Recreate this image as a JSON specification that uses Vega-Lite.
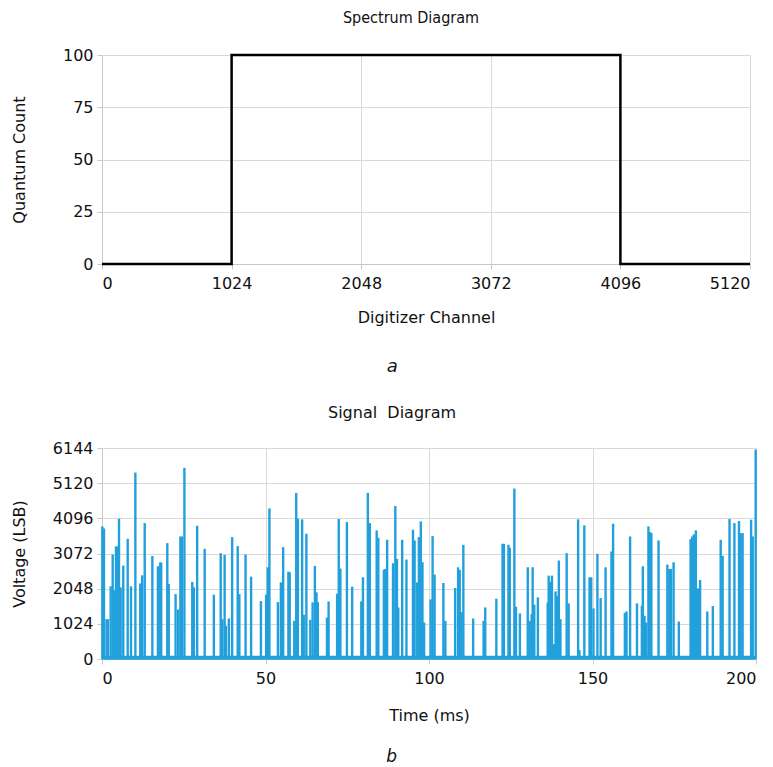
{
  "$schema": "https://vega.github.io/schema/vega-lite/v6.json",
  "padding": {"left": 11, "top": 10, "right": 2, "bottom": 0},
  "background": "white",
  "config": {
    "font": "DejaVu Sans",
    "view": {"stroke": null},
    "axis": {
      "labelFont": "DejaVu Sans", "labelFontSize": 16, "labelColor": "#111",
      "titleFont": "DejaVu Sans", "titleFontSize": 16, "titleFontWeight": "normal", "titleColor": "#111",
      "gridColor": "#d9d9d9", "gridWidth": 1, "domainColor": "#c8c8c8", "tickColor": "#c8c8c8",
      "tickSize": 5, "labelPadding": 4, "labelOverlap": false, "format": "d"
    },
    "axisX": {"labelPadding": 6},
    "title": {"font": "DejaVu Sans", "fontWeight": "normal", "color": "#111"}
  },
  "datasets": {
    "spectrum": [
      {"channel": 0, "count": 0},
      {"channel": 1024, "count": 100},
      {"channel": 4096, "count": 0},
      {"channel": 5120, "count": 0}
    ],
    "baseline": [
      {"t0": 0, "t1": 200, "v": 40}
    ],
    "signal": [
      {"t": 0.1, "v": 3861}, {"t": 0.6, "v": 3800}, {"t": 1.4, "v": 1160}, {"t": 1.8, "v": 1160},
      {"t": 2.65, "v": 2116}, {"t": 3.27, "v": 3042}, {"t": 3.6, "v": 2000}, {"t": 4.28, "v": 3276},
      {"t": 4.6, "v": 3276}, {"t": 5.2, "v": 4085}, {"t": 5.7, "v": 2086}, {"t": 6.5, "v": 2720},
      {"t": 7.86, "v": 3500}, {"t": 8.87, "v": 2116}, {"t": 10.2, "v": 5430}, {"t": 11.7, "v": 2200},
      {"t": 12.3, "v": 2437}, {"t": 13.06, "v": 3958}, {"t": 15.4, "v": 3000}, {"t": 17.1, "v": 2700},
      {"t": 17.8, "v": 2808}, {"t": 18.1, "v": 2808}, {"t": 19.97, "v": 3373}, {"t": 20.4, "v": 2184},
      {"t": 22.5, "v": 1890}, {"t": 23.3, "v": 1443}, {"t": 23.97, "v": 3568}, {"t": 24.4, "v": 3568},
      {"t": 25.2, "v": 5567}, {"t": 27.6, "v": 2242}, {"t": 28.1, "v": 2086}, {"t": 29.1, "v": 3880},
      {"t": 31.4, "v": 3208}, {"t": 34.2, "v": 1872}, {"t": 36.3, "v": 3081}, {"t": 36.8, "v": 1160},
      {"t": 37.5, "v": 3032}, {"t": 37.9, "v": 965}, {"t": 38.8, "v": 1180}, {"t": 39.8, "v": 3549},
      {"t": 41.5, "v": 3286}, {"t": 42.0, "v": 1891}, {"t": 43.9, "v": 3042}, {"t": 45.6, "v": 2398},
      {"t": 48.6, "v": 1687}, {"t": 50.2, "v": 1872}, {"t": 50.7, "v": 2671}, {"t": 51.2, "v": 4387},
      {"t": 53.8, "v": 1657}, {"t": 54.7, "v": 2232}, {"t": 55.4, "v": 3256}, {"t": 57.0, "v": 2545},
      {"t": 57.4, "v": 2525}, {"t": 58.8, "v": 1111}, {"t": 59.4, "v": 4836}, {"t": 59.9, "v": 4085},
      {"t": 61.2, "v": 4066}, {"t": 61.7, "v": 1287}, {"t": 62.5, "v": 3647}, {"t": 63.7, "v": 1141},
      {"t": 64.4, "v": 1648}, {"t": 65.1, "v": 2711}, {"t": 65.6, "v": 1940}, {"t": 66.0, "v": 1657},
      {"t": 68.8, "v": 1209}, {"t": 69.3, "v": 1677}, {"t": 71.9, "v": 1901}, {"t": 72.4, "v": 4076},
      {"t": 72.9, "v": 2632}, {"t": 74.9, "v": 3988}, {"t": 76.5, "v": 2106}, {"t": 79.3, "v": 1677},
      {"t": 79.8, "v": 2379}, {"t": 81.3, "v": 4836}, {"t": 81.9, "v": 3958}, {"t": 84.0, "v": 3744},
      {"t": 84.5, "v": 3530}, {"t": 86.2, "v": 2594}, {"t": 86.5, "v": 2623}, {"t": 87.2, "v": 3471},
      {"t": 89.0, "v": 2789}, {"t": 89.7, "v": 4456}, {"t": 90.2, "v": 2915}, {"t": 90.6, "v": 1502},
      {"t": 91.8, "v": 3471}, {"t": 93.1, "v": 2896}, {"t": 95.1, "v": 3764}, {"t": 95.6, "v": 3452},
      {"t": 96.4, "v": 2232}, {"t": 96.9, "v": 3549}, {"t": 97.5, "v": 4007}, {"t": 98.0, "v": 2818},
      {"t": 98.5, "v": 1063}, {"t": 100.5, "v": 1735}, {"t": 101.1, "v": 3578}, {"t": 101.7, "v": 2457},
      {"t": 104.4, "v": 2213}, {"t": 105.0, "v": 1111}, {"t": 108.0, "v": 2067}, {"t": 108.9, "v": 2671},
      {"t": 109.4, "v": 2594}, {"t": 109.9, "v": 1365}, {"t": 110.5, "v": 3325}, {"t": 113.5, "v": 1180},
      {"t": 116.7, "v": 1111}, {"t": 117.2, "v": 1502}, {"t": 120.6, "v": 1755}, {"t": 122.5, "v": 3354},
      {"t": 122.9, "v": 3354}, {"t": 124.3, "v": 3325}, {"t": 124.7, "v": 3237}, {"t": 126.1, "v": 4963},
      {"t": 126.6, "v": 1521}, {"t": 127.8, "v": 1326}, {"t": 130.2, "v": 2671}, {"t": 130.8, "v": 1111},
      {"t": 131.4, "v": 1307}, {"t": 131.7, "v": 2671}, {"t": 132.2, "v": 1580}, {"t": 133.3, "v": 1794},
      {"t": 136.3, "v": 1648}, {"t": 136.6, "v": 2428}, {"t": 137.1, "v": 2252}, {"t": 137.6, "v": 2428},
      {"t": 138.2, "v": 430}, {"t": 138.7, "v": 1969}, {"t": 139.2, "v": 1843}, {"t": 139.7, "v": 2867},
      {"t": 140.2, "v": 1160}, {"t": 142.1, "v": 3081}, {"t": 142.7, "v": 1619}, {"t": 145.6, "v": 4066},
      {"t": 146.0, "v": 260}, {"t": 147.5, "v": 3890}, {"t": 149.1, "v": 2379}, {"t": 149.6, "v": 2379},
      {"t": 150.3, "v": 1472}, {"t": 151.5, "v": 3062}, {"t": 152.5, "v": 1775}, {"t": 154.0, "v": 2671},
      {"t": 155.8, "v": 3130}, {"t": 156.3, "v": 3939}, {"t": 159.9, "v": 1346}, {"t": 160.4, "v": 1385},
      {"t": 161.5, "v": 3568}, {"t": 163.6, "v": 1619}, {"t": 165.1, "v": 1550}, {"t": 165.4, "v": 2700},
      {"t": 165.9, "v": 1258}, {"t": 166.4, "v": 1063}, {"t": 167.1, "v": 3861}, {"t": 167.6, "v": 3695},
      {"t": 168.0, "v": 3666}, {"t": 170.2, "v": 3452}, {"t": 172.9, "v": 2750}, {"t": 173.5, "v": 2623},
      {"t": 174.0, "v": 2623}, {"t": 174.8, "v": 2818}, {"t": 176.4, "v": 1092}, {"t": 180.0, "v": 3490},
      {"t": 180.5, "v": 3568}, {"t": 181.0, "v": 3627}, {"t": 181.6, "v": 3744}, {"t": 182.2, "v": 2057},
      {"t": 182.9, "v": 2301}, {"t": 185.1, "v": 1385}, {"t": 186.8, "v": 1540}, {"t": 189.2, "v": 3471},
      {"t": 189.8, "v": 3003}, {"t": 191.9, "v": 4076}, {"t": 193.4, "v": 3958}, {"t": 194.8, "v": 4017},
      {"t": 195.3, "v": 3666}, {"t": 195.9, "v": 3666}, {"t": 198.5, "v": 4056}, {"t": 199.0, "v": 3568},
      {"t": 199.9, "v": 6100}
    ]
  },
  "spacing": 29,
  "vconcat": [
    {
      "title": {"text": "a", "orient": "bottom", "anchor": "middle", "fontStyle": "italic", "fontSize": 18, "offset": 33, "dx": 9},
      "vconcat": [
        {
          "title": {"text": "Spectrum Diagram", "anchor": "middle", "fontSize": 16, "offset": 21, "dx": -15,
                    "font": "Liberation Sans Narrow, DejaVu Sans Condensed, DejaVu Sans"},
          "width": 648,
          "height": 209,
          "data": {"name": "spectrum"},
          "mark": {"type": "line", "interpolate": "step-after", "color": "#000", "strokeWidth": 2.5},
          "encoding": {
            "x": {"field": "channel", "type": "quantitative", "title": "Digitizer Channel",
                  "scale": {"domain": [0, 5120], "nice": false},
                  "axis": {"values": [0, 1024, 2048, 3072, 4096, 5120], "titlePadding": 18}},
            "y": {"field": "count", "type": "quantitative", "title": "Quantum Count",
                  "scale": {"domain": [0, 100], "nice": false},
                  "axis": {"values": [0, 25, 50, 75, 100], "titlePadding": 35}}
          }
        }
      ]
    },
    {
      "title": {"text": "b", "orient": "bottom", "anchor": "middle", "fontStyle": "italic", "fontSize": 17, "offset": 26, "dx": 7},
      "vconcat": [
        {
          "title": {"text": "Signal\u00a0\u00a0Diagram", "anchor": "middle", "fontSize": 16, "offset": 19, "dx": -37},
          "width": 654,
          "height": 211,
          "layer": [
            {
              "data": {"name": "baseline"},
              "mark": {"type": "rule", "color": "#22a0dc", "strokeWidth": 4},
              "encoding": {
                "x": {"field": "t0", "type": "quantitative", "title": "Time (ms)",
                      "scale": {"domain": [0, 200], "nice": false},
                      "axis": {"values": [0, 50, 100, 150, 200], "titlePadding": 21}},
                "x2": {"field": "t1"},
                "y": {"field": "v", "type": "quantitative", "title": "Voltage (LSB)",
                      "scale": {"domain": [0, 6144], "nice": false},
                      "axis": {"values": [0, 1024, 2048, 3072, 4096, 5120, 6144], "titlePadding": 25}}
              }
            },
            {
              "data": {"name": "signal"},
              "mark": {"type": "rule", "color": "#22a0dc", "strokeWidth": 2.4},
              "encoding": {
                "x": {"field": "t", "type": "quantitative", "title": "Time (ms)",
                      "scale": {"domain": [0, 200], "nice": false},
                      "axis": {"values": [0, 50, 100, 150, 200], "titlePadding": 21}},
                "y": {"field": "v", "type": "quantitative", "title": "Voltage (LSB)",
                      "scale": {"domain": [0, 6144], "nice": false},
                      "axis": {"values": [0, 1024, 2048, 3072, 4096, 5120, 6144], "titlePadding": 25}},
                "y2": {"datum": 0}
              }
            }
          ]
        }
      ]
    }
  ]
}
